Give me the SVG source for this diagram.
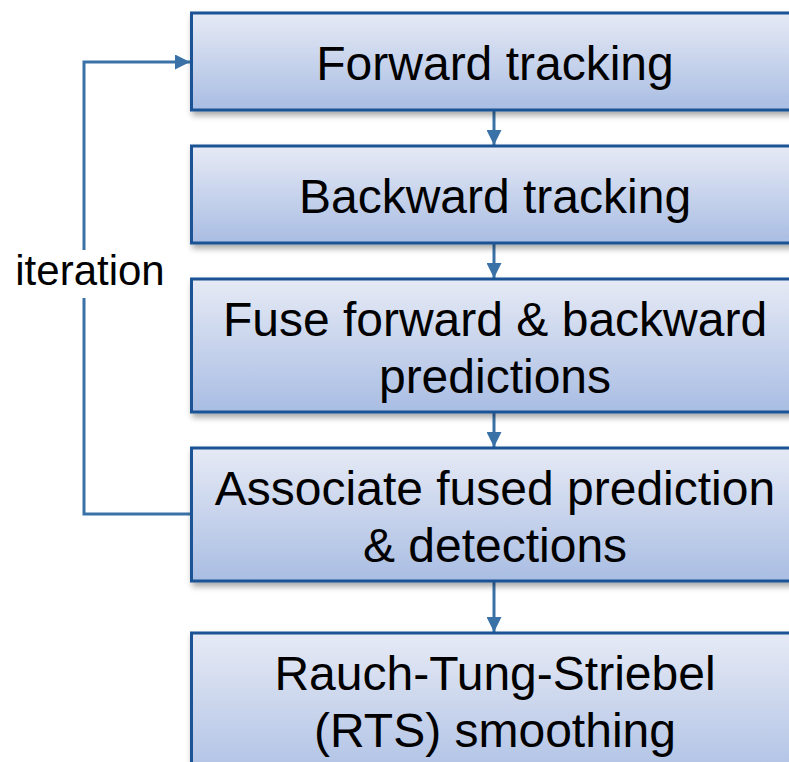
<svg xmlns="http://www.w3.org/2000/svg" width="789" height="762" viewBox="0 0 789 762">
  <defs>
    <linearGradient id="boxFill" x1="0" y1="0" x2="0" y2="1">
      <stop offset="0" stop-color="#e6eaf5"/>
      <stop offset="1" stop-color="#a9bde3"/>
    </linearGradient>
    <filter id="shadow" x="-10%" y="-10%" width="130%" height="140%">
      <feGaussianBlur in="SourceAlpha" stdDeviation="3"/>
      <feOffset dx="2" dy="4" result="b"/>
      <feComponentTransfer><feFuncA type="linear" slope="0.35"/></feComponentTransfer>
      <feMerge><feMergeNode/><feMergeNode in="SourceGraphic"/></feMerge>
    </filter>
    <marker id="arrow" markerWidth="5" markerHeight="5" refX="5" refY="2.5" orient="auto" markerUnits="strokeWidth">
      <path d="M0,0 L5,2.5 L0,5 Z" fill="#3a72a8"/>
    </marker>
  </defs>
  <style>
    .box { fill: url(#boxFill); stroke: #1d5394; stroke-width: 3; filter: url(#shadow); }
    .label { font-family: "Liberation Sans", Arial, sans-serif; font-size: 48px; fill: #000; text-anchor: middle; }
    .side { font-family: "Liberation Sans", Arial, sans-serif; font-size: 42px; fill: #000; text-anchor: middle; }
    .conn { stroke: #3a72a8; stroke-width: 3; fill: none; }
  </style>
  <rect width="789" height="762" fill="#fff"/>

  <g id="connectors">
    <line class="conn" x1="494" y1="111" x2="494" y2="145" marker-end="url(#arrow)"/>
    <line class="conn" x1="494" y1="244" x2="494" y2="278" marker-end="url(#arrow)"/>
    <line class="conn" x1="494" y1="413" x2="494" y2="447" marker-end="url(#arrow)"/>
    <line class="conn" x1="494" y1="582" x2="494" y2="632" marker-end="url(#arrow)"/>
    <polyline class="conn" points="192,514 84,514 84,298"/>
    <polyline class="conn" points="84,250 84,62 190,62" marker-end="url(#arrow)"/>
  </g>

  <g id="forward-tracking">
    <rect class="box" x="191.5" y="13" width="610" height="97"/>
    <text class="label" x="495" y="80">Forward tracking</text>
  </g>
  <g id="backward-tracking">
    <rect class="box" x="191.5" y="146" width="610" height="97"/>
    <text class="label" x="495" y="213">Backward tracking</text>
  </g>
  <g id="fuse-predictions">
    <rect class="box" x="191.5" y="279" width="610" height="133"/>
    <text class="label" x="495" y="336">Fuse forward &amp; backward</text>
    <text class="label" x="495" y="393">predictions</text>
  </g>
  <g id="associate-detections">
    <rect class="box" x="191.5" y="448" width="610" height="133"/>
    <text class="label" x="495" y="505">Associate fused prediction</text>
    <text class="label" x="495" y="562">&amp; detections</text>
  </g>
  <g id="rts-smoothing">
    <rect class="box" x="191.5" y="633" width="610" height="160"/>
    <text class="label" x="495" y="690">Rauch-Tung-Striebel</text>
    <text class="label" x="495" y="747">(RTS) smoothing</text>
  </g>
  <g id="iteration-label">
    <text class="side" x="90" y="285">iteration</text>
  </g>
</svg>
